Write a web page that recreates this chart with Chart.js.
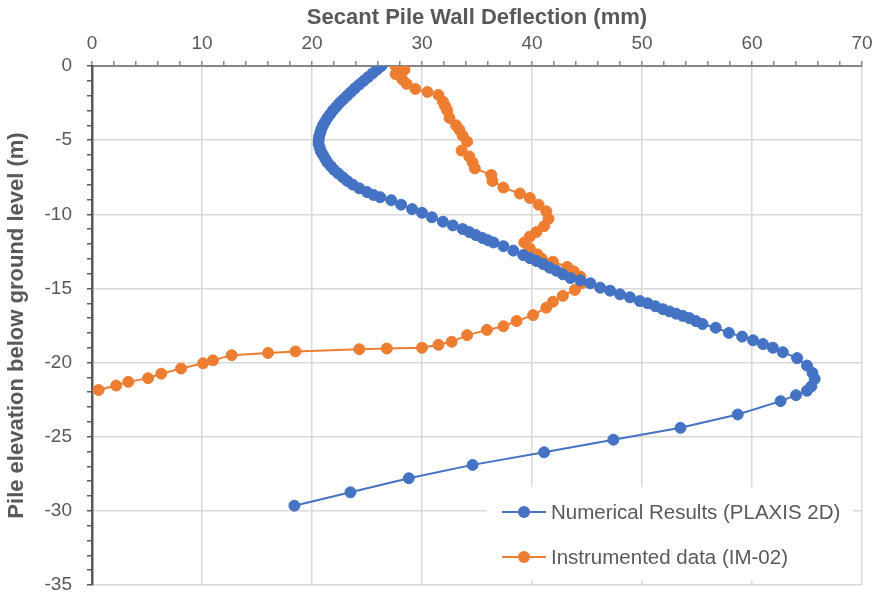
<!DOCTYPE html>
<html>
<head>
<meta charset="utf-8">
<script src="https://cdn.jsdelivr.net/npm/chart.js@4/dist/chart.umd.min.js"></script>
<style>
  html, body { margin: 0; padding: 0; background: #fff; }
  #wrap { width: 879px; height: 592px; }
</style>
</head>
<body>
<div id="wrap"><canvas id="myChart" width="879" height="592"></canvas></div>
<script>
// [deflection (mm), elevation (m)]
const numerical = [
  [26.3, 0], [25.9, -0.25], [25.5, -0.5], [25.1, -0.75], [24.7, -1.0], [24.3, -1.25],
  [23.9, -1.5], [23.55, -1.75], [23.2, -2.0], [22.85, -2.25], [22.5, -2.5], [22.2, -2.75],
  [21.9, -3.0], [21.65, -3.25], [21.4, -3.5], [21.2, -3.75], [21.0, -4.0], [20.85, -4.25],
  [20.75, -4.5], [20.65, -4.75], [20.6, -5.0], [20.6, -5.25], [20.7, -5.5], [20.8, -5.75],
  [21.0, -6.0], [21.2, -6.25], [21.4, -6.5], [21.7, -6.75], [22.0, -7.0], [22.4, -7.25],
  [22.8, -7.5], [23.2, -7.75], [23.7, -8.0], [24.3, -8.25], [25.0, -8.5], [25.6, -8.7],
  [26.2, -8.85], [27.2, -9.05], [28.1, -9.35], [29.1, -9.65], [30.0, -9.9], [30.9, -10.2],
  [31.9, -10.5], [32.8, -10.75], [33.7, -11.0], [34.3, -11.2], [34.9, -11.4], [35.5, -11.6],
  [36.0, -11.75], [36.5, -11.9], [37.4, -12.15], [38.3, -12.45], [39.2, -12.75], [39.8, -12.95],
  [40.4, -13.15], [41.0, -13.35], [41.6, -13.6], [42.2, -13.8], [42.8, -14.05], [43.5, -14.3],
  [44.4, -14.45], [45.3, -14.65], [46.2, -14.95], [47.1, -15.15], [48.0, -15.4], [48.9, -15.6],
  [49.8, -15.85], [50.5, -16.0], [51.2, -16.2], [51.9, -16.4], [52.5, -16.55], [53.1, -16.7],
  [53.7, -16.85], [54.3, -17.0], [54.9, -17.2], [55.5, -17.4], [56.7, -17.65], [57.9, -18.0],
  [59.1, -18.25], [60.1, -18.5], [61.0, -18.75], [61.9, -19.0], [62.8, -19.3], [64.1, -19.7],
  [65.0, -20.2], [65.5, -20.7], [65.7, -21.1], [65.4, -21.6], [65.0, -21.9], [64.0, -22.2],
  [62.6, -22.6], [58.7, -23.5], [53.5, -24.4], [47.4, -25.2], [41.1, -26.05], [34.6, -26.9],
  [28.8, -27.8], [23.5, -28.75], [18.4, -29.65]
];

const instrumented = [
  [27.6, 0], [28.4, -0.25], [27.6, -0.55], [28.2, -0.9], [28.6, -1.2], [29.4, -1.55],
  [30.5, -1.75], [31.5, -1.95], [31.9, -2.4], [32.1, -2.7], [32.3, -3.0], [32.5, -3.5],
  [33.1, -4.0], [33.4, -4.3], [33.7, -4.7], [34.1, -5.1], [33.6, -5.7], [34.3, -6.1],
  [34.6, -6.5], [34.8, -6.9], [36.3, -7.35], [36.4, -7.75], [37.4, -8.2], [38.9, -8.6],
  [39.8, -8.9], [40.6, -9.35], [41.3, -9.8], [41.5, -10.3], [41.1, -10.8], [40.4, -11.2],
  [39.8, -11.5], [39.3, -11.9], [39.8, -12.3], [40.5, -12.7], [40.9, -13.0], [41.9, -13.2],
  [43.2, -13.55], [43.8, -13.85], [44.4, -14.2], [44.5, -14.65], [43.9, -15.1], [42.8, -15.5],
  [41.9, -15.9], [41.3, -16.3], [40.1, -16.8], [38.6, -17.2], [37.4, -17.55], [35.9, -17.8],
  [34.1, -18.15], [32.7, -18.6], [31.5, -18.8], [30.0, -19.0], [26.8, -19.05], [24.3, -19.1],
  [18.5, -19.25], [16.0, -19.35], [12.7, -19.5], [11.0, -19.85], [10.1, -20.05], [8.1, -20.4],
  [6.3, -20.75], [5.1, -21.05], [3.3, -21.3], [2.2, -21.55], [0.6, -21.85]
];

const seriesNames = ['Numerical Results (PLAXIS 2D)', 'Instrumented data (IM-02)'];
const seriesColors = ['#4472C4', '#ED7D31'];
const xTitle = 'Secant Pile Wall Deflection (mm)';
const yTitle = 'Pile elevation below ground level (m)';

const textColor = '#595959';
const fontFamily = '"Liberation Sans", Arial, sans-serif';

const toPoints = arr => arr.map(p => ({ x: p[0], y: p[1] }));

// legend drawn inside the plot, bottom right, on a white box
const insideLegend = {
  id: 'insideLegend',
  afterDatasetsDraw(chart) {
    const ctx = chart.ctx;
    const area = chart.chartArea;
    const boxW = 366, boxH = 93;
    const bx = area.right - 9 - boxW;
    const by = area.bottom - 5 - boxH;
    ctx.save();
    ctx.fillStyle = '#ffffff';
    ctx.fillRect(bx, by, boxW, boxH);
    ctx.font = '20.5px ' + fontFamily;
    ctx.textBaseline = 'middle';
    ctx.textAlign = 'left';
    chart.data.datasets.forEach((ds, i) => {
      const y = by + 25 + i * 45;
      const x0 = bx + 15;
      ctx.strokeStyle = ds.borderColor;
      ctx.lineWidth = 2;
      ctx.beginPath();
      ctx.moveTo(x0, y);
      ctx.lineTo(x0 + 44, y);
      ctx.stroke();
      ctx.fillStyle = ds.backgroundColor;
      ctx.beginPath();
      ctx.arc(x0 + 22, y, 6, 0, Math.PI * 2);
      ctx.fill();
      ctx.fillStyle = textColor;
      ctx.fillText(ds.label, x0 + 49, y + 1);
    });
    ctx.restore();
  }
};

const isMajor = (v, step) => Math.abs(Math.round(v) % step) === 0 && Math.abs(v - Math.round(v)) < 1e-6;

const data = {
  datasets: [
    {
      label: seriesNames[0],
      data: toPoints(numerical),
      showLine: true,
      borderColor: seriesColors[0],
      backgroundColor: seriesColors[0],
      borderWidth: 2,
      pointRadius: 5.5,
      pointBorderWidth: 1,
      tension: 0,
    },
    {
      label: seriesNames[1],
      data: toPoints(instrumented),
      showLine: true,
      borderColor: seriesColors[1],
      backgroundColor: seriesColors[1],
      borderWidth: 2,
      pointRadius: 5.5,
      pointBorderWidth: 1,
      tension: 0,
    },
  ],
};

const options = {
  responsive: false,
  animation: false,
  layout: { padding: { left: 0, top: 0, right: 17, bottom: 7 } },
  scales: {
    x: {
      type: 'linear',
      position: 'top',
      min: 0,
      max: 70,
      afterFit: s => { s.height = 66; s.paddingLeft = 0; s.paddingRight = 0; },
      ticks: {
        stepSize: 2,
        autoSkip: false,
        maxRotation: 0,
        padding: 6,
        color: textColor,
        font: { family: fontFamily, size: 19 },
        callback: v => (isMajor(v, 10) ? String(v) : ''),
      },
      grid: {
        lineWidth: 1.5,
        color: c => (c.tick && isMajor(c.tick.value, 10) ? '#d9d9d9' : 'rgba(0,0,0,0)'),
        tickColor: '#868686',
        tickLength: 5,
        tickWidth: 1.5,
      },
      border: { display: true, color: '#868686', width: 2 },
      title: {
        display: true,
        text: xTitle,
        color: textColor,
        font: { family: fontFamily, size: 22, weight: 'bold' },
        padding: { top: 5, bottom: 0 },
      },
    },
    y: {
      type: 'linear',
      min: -35,
      max: 0,
      afterFit: s => { s.width = 92; s.paddingTop = 0; s.paddingBottom = 0; },
      ticks: {
        stepSize: 1,
        autoSkip: false,
        padding: 15,
        color: textColor,
        font: { family: fontFamily, size: 19 },
        callback: v => (isMajor(v, 5) ? String(v) : ''),
      },
      grid: {
        lineWidth: 1.5,
        color: c => (c.tick && isMajor(c.tick.value, 5) ? '#d9d9d9' : 'rgba(0,0,0,0)'),
        tickColor: '#595959',
        tickLength: 5,
        tickWidth: 1.5,
      },
      border: { display: true, color: '#595959', width: 2.5 },
      title: {
        display: true,
        text: yTitle,
        color: textColor,
        font: { family: fontFamily, size: 22, weight: 'bold' },
        padding: { top: 4, bottom: 0 },
      },
    },
  },
  plugins: {
    legend: { display: false },
    tooltip: { enabled: false },
  },
};

new Chart('myChart', {
  type: 'scatter',
  data: data,
  options: options,
  plugins: [insideLegend],
});
</script>
</body>
</html>
